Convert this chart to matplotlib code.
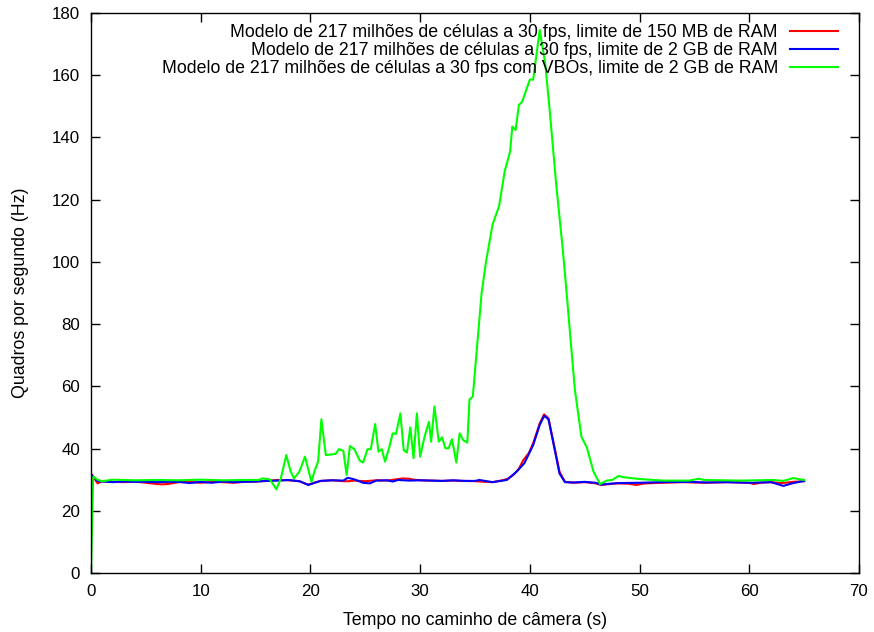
import matplotlib
matplotlib.use("Agg")
import matplotlib.pyplot as plt

# ---------------- data ----------------
labels = [
    "Modelo de 217 milhões de células a 30 fps, limite de 150 MB de RAM",
    "Modelo de 217 milhões de células a 30 fps, limite de 2 GB de RAM",
    "Modelo de 217 milhões de células a 30 fps com VBOs, limite de 2 GB de RAM",
]

t_red = [0.1, 0.6, 1, 2, 3, 4, 5, 6, 6.5, 7, 8, 9, 10, 11, 12, 13, 14, 15, 16, 17,
         18, 19, 19.8, 20.5, 21, 22, 23, 23.5, 24, 25, 26, 27, 28, 28.4, 29, 29.4,
         30, 31, 32, 33, 34, 35, 36, 36.6, 37.5, 38, 38.5, 39, 39.4, 39.9, 40.3,
         40.9, 41.3, 41.7, 42.3, 42.7, 43.2, 44, 45, 46, 46.5, 47, 48, 49, 49.7,
         50.5, 52, 54, 56, 58, 60, 60.4, 61, 62, 63, 64, 65]
v_red = [31.5, 28.8, 29.5, 29.3, 29.2, 29.4, 29.0, 28.6, 28.5, 28.6, 29.2, 29.3,
         29.0, 29.3, 29.2, 29.0, 29.3, 29.4, 29.6, 29.9, 29.8, 29.5, 28.4, 29.2,
         29.6, 29.8, 29.5, 29.5, 29.7, 29.5, 29.8, 29.7, 30.2, 30.4, 30.3, 30.0,
         29.8, 29.7, 29.6, 29.7, 29.6, 29.5, 29.3, 29.2, 29.8, 30.3, 31.5, 33.5,
         36.3, 38.5, 41.7, 48.1, 51.0, 49.7, 39.5, 32.6, 29.3, 29.0, 29.2, 28.8,
         28.3, 28.5, 28.8, 28.7, 28.3, 28.8, 29.0, 29.2, 29.0, 29.2, 29.0, 28.6,
         29.0, 29.2, 28.9, 29.3, 29.5]

t_blue = [0.1, 0.6, 1, 2, 3, 4, 5, 6, 7, 8, 9, 10, 11, 12, 13, 14, 15, 16, 17, 18,
          19, 19.8, 20.9, 22, 23, 23.4, 24.0, 24.8, 25.4, 26, 27, 27.5, 28, 29, 30,
          31, 32, 33, 34, 35, 35.4, 36.6, 37.9, 38.8, 39.5, 40.3, 40.9, 41.3, 41.7,
          42.3, 42.7, 43.2, 44, 45, 46, 46.5, 47, 48, 50, 52, 54.4, 56, 58, 60, 62,
          63.1, 64, 65]
v_blue = [31.3, 29.6, 29.4, 29.2, 29.4, 29.3, 29.3, 29.2, 29.3, 29.3, 28.9, 29.3,
          29.0, 29.4, 29.2, 29.3, 29.4, 29.6, 29.7, 29.9, 29.5, 28.3, 29.6, 29.8,
          29.7, 30.6, 30.1, 29.0, 28.8, 29.7, 29.8, 29.4, 29.9, 29.7, 29.8, 29.7,
          29.6, 29.8, 29.6, 29.6, 29.9, 29.2, 29.9, 32.6, 35.3, 41.1, 47.6, 50.5,
          49.4, 39.0, 32.0, 29.2, 29.1, 29.3, 29.0, 28.4, 28.6, 28.9, 29.0, 29.2,
          29.3, 29.1, 29.2, 29.0, 29.2, 28.0, 28.9, 29.6]

t_green = [0, 0.2, 0.6, 1.0, 2, 4, 6, 8, 10, 12, 14, 15.3, 15.6, 16.3, 16.9, 17.3,
           17.8, 18.2, 18.5, 19.0, 19.5, 20.1, 20.4, 20.7, 21.0, 21.4, 21.9, 22.3,
           22.6, 23.0, 23.3, 23.6, 24.0, 24.5, 24.8, 25.2, 25.5, 25.9, 26.2, 26.5,
           26.8, 27.2, 27.5, 27.8, 28.2, 28.5, 28.8, 29.1, 29.4, 29.7, 30.0, 30.4,
           30.8, 31.0, 31.3, 31.7, 32.0, 32.3, 32.6, 32.9, 33.3, 33.6, 33.9, 34.3,
           34.5, 34.8, 35.6, 36.0, 36.6, 37.2, 37.7, 38.2, 38.4, 38.7, 39.0, 39.3,
           40.0, 40.3, 40.9, 41.4, 41.8, 42.4, 43.0, 43.4, 44.1, 44.7, 45.2, 45.8,
           46.4, 47.0, 47.5, 48.1, 48.5, 50, 52.2, 54.5, 55.4, 55.9, 59.2, 62.2,
           63.1, 64.0, 65.0]
v_green = [0, 31, 30, 29.5, 30, 29.8, 29.9, 29.8, 30, 29.8, 29.9, 29.9, 30.4, 30.1,
           26.9, 30.4, 37.9, 32.6, 30.4, 32.6, 37.4, 29.3, 33.1, 35.8, 49.4, 37.9,
           38.1, 38.3, 39.8, 39.3, 31.5, 40.8, 39.8, 36.1, 35.5, 39.8, 39.8, 47.9,
           39.0, 39.8, 35.8, 40.6, 44.9, 44.7, 51.3, 39.5, 38.7, 46.8, 36.9, 51.3,
           37.4, 43.8, 48.6, 42.2, 53.5, 42.2, 43.6, 40.1, 40.1, 43.0, 35.5, 44.9,
           42.8, 41.9, 55.8, 56.7, 89.9, 100.0, 112.0, 118.0, 129.0, 135.5, 143.5,
           142.4, 150.4, 151.5, 158.6, 158.6, 174.5, 163.8, 149.0, 125.0, 104.0,
           88.0, 59.0, 43.8, 40.3, 32.6, 28.6, 29.7, 29.9, 31.2, 30.8, 30.2, 29.7,
           29.7, 30.3, 29.9, 29.7, 29.9, 29.6, 30.5, 29.9]

x_ticks = [0, 10, 20, 30, 40, 50, 60, 70]
y_ticks = [0, 20, 40, 60, 80, 100, 120, 140, 160, 180]

# ---------------- figure ----------------
plt.rcParams['font.family'] = ['Liberation Sans', 'DejaVu Sans']
fig = plt.figure(figsize=(8.74, 6.32), dpi=100)
ax_l, ax_r, ax_b, ax_t = 91, 859, 573, 13
ax = fig.add_axes([ax_l / 874, 1 - ax_b / 632, (ax_r - ax_l) / 874, (ax_b - ax_t) / 632])

lw = 1.5
ax.plot(t_red, v_red, color='#ff0000', lw=lw, label=labels[0])
ax.plot(t_blue, v_blue, color='#0000ff', lw=lw, label=labels[1])
ax.plot(t_green, v_green, color='#00ff00', lw=lw, label=labels[2])

ax.set_xlim(0, 70)
ax.set_ylim(0, 180)
ax.set_xticks(x_ticks)
ax.set_yticks(y_ticks)
ax.tick_params(direction='in', top=True, right=True, length=6.5, width=1,
               labelsize=12.2, pad=8)
for s in ax.spines.values():
    s.set_linewidth(1)

fs = 12.8
ax.set_xlabel("Tempo no caminho de câmera (s)", fontsize=fs, labelpad=9.5)
ax.set_ylabel("Quadros por segundo (Hz)", fontsize=fs, labelpad=16)

w = ax_r - ax_l
h = ax_b - ax_t
leg = ax.legend(loc='upper right', frameon=False, markerfirst=False,
                fontsize=fs, handlelength=2.7, handletextpad=0.68,
                labelspacing=0.06, borderaxespad=0, borderpad=0,
                bbox_to_anchor=(1 - 21 / w, 1 - 11 / h))
leg._legend_box.align = "right"

fig.savefig("out.png", dpi=100)
